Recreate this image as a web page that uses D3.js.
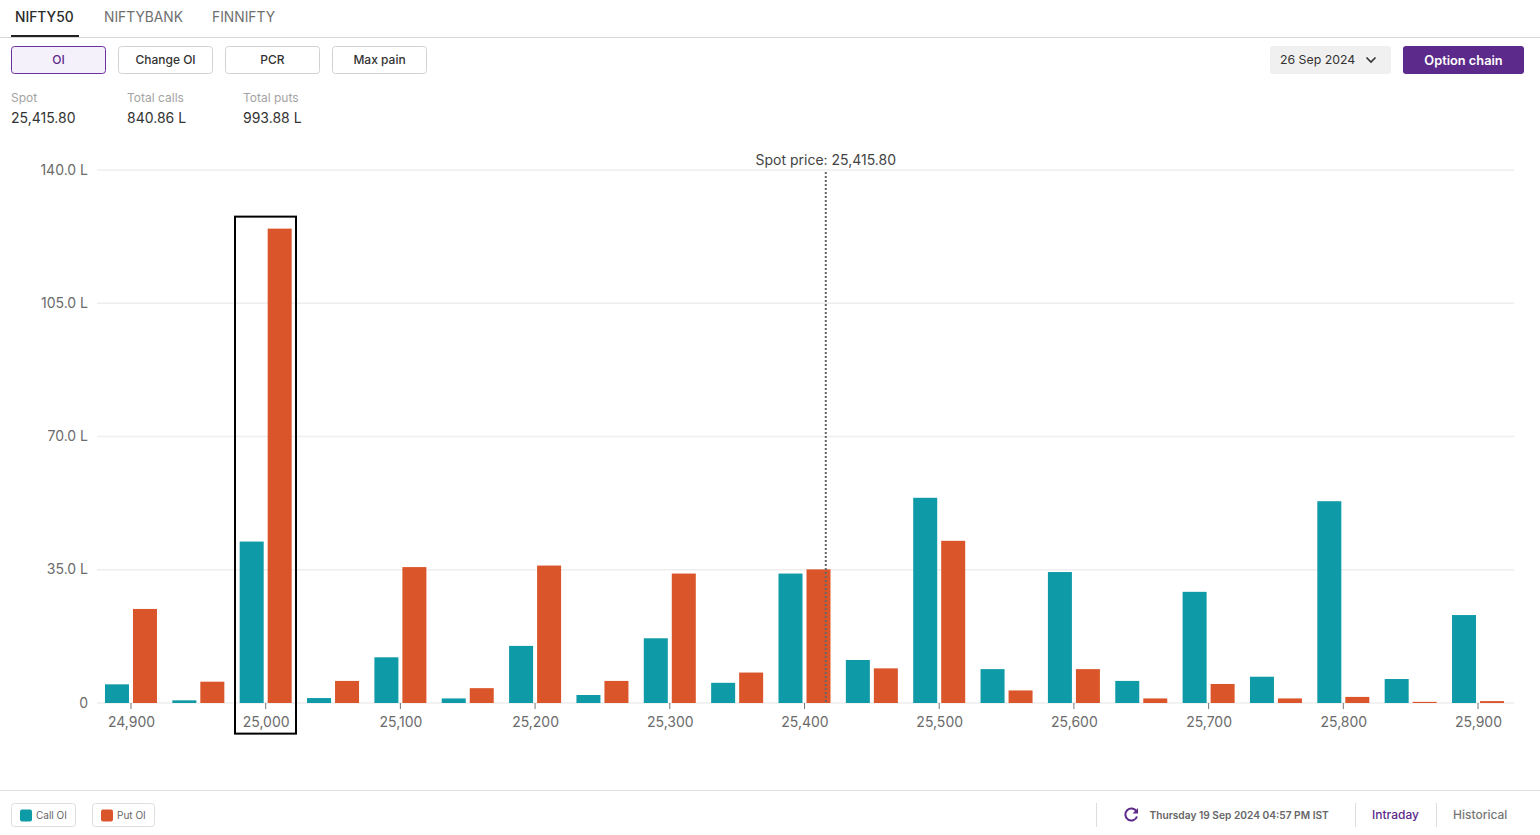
<!DOCTYPE html>
<html>
<head>
<meta charset="utf-8">
<title>Option chain OI</title>
<script src="https://cdn.jsdelivr.net/npm/d3@7"></script>
<style>
  html, body { margin: 0; padding: 0; background: #fff; overflow: hidden; }
  svg { display: block; font-family: Inter, "Noto Sans", sans-serif; }
</style>
</head>
<body>
<div id="chart"></div>
<script>
// width and height of the page
var w = 1540;
var h = 835;

// strikes and open interest, in lakh
var strikes = [24900, 24950, 25000, 25050, 25100, 25150, 25200, 25250, 25300, 25350, 25400,
  25450, 25500, 25550, 25600, 25650, 25700, 25750, 25800, 25850, 25900];
var callOI = [4.9, 0.7, 42.4, 1.3, 12, 1.2, 15, 2.1, 17, 5.3, 34,
  11.3, 53.9, 8.9, 34.4, 5.8, 29.2, 6.9, 53, 6.3, 23.1];
var putOI = [24.7, 5.6, 124.6, 5.8, 35.7, 3.9, 36.1, 5.8, 34, 8, 35.1,
  9.1, 42.6, 3.3, 8.9, 1.2, 5, 1.2, 1.6, 0.3, 0.5];
var yTicks = [0, 35, 70, 105, 140];
var xTicks = [24900, 25000, 25100, 25200, 25300, 25400, 25500, 25600, 25700, 25800, 25900];
var spot = 25415.80;
var highlighted = 25000;

// header and footer text
var tabs = ["NIFTY50", "NIFTYBANK", "FINNIFTY"];
var buttons = ["OI", "Change OI", "PCR", "Max pain"];
var stats = [["Spot", "25,415.80"], ["Total calls", "840.86 L"], ["Total puts", "993.88 L"]];
var legendNames = ["Call OI", "Put OI"];
var colors = ["#0e9aa7", "#db552a"];

var svg = d3.select("#chart").append("svg")
  .attr("width", w)
  .attr("height", h);

// tabs
var tabX = [15, 104, 212];
svg.selectAll(".tab")
  .data(tabs)
  .enter()
  .append("text")
  .attr("class", "tab")
  .attr("x", function(d, i) { return tabX[i]; })
  .attr("y", 22)
  .attr("font-size", "13.8px")
  .attr("font-weight", function(d, i) { return i === 0 ? 500 : 400; })
  .attr("fill", function(d, i) { return i === 0 ? "#2b2b2b" : "#6f6f6f"; })
  .text(function(d) { return d; });

svg.append("line").attr("x1", 0).attr("x2", w).attr("y1", 37.5).attr("y2", 37.5).attr("stroke", "#d6d6d6");
svg.append("rect").attr("x", 11).attr("y", 35).attr("width", 68).attr("height", 2).attr("fill", "#222");

// buttons
var btn = svg.selectAll(".btn")
  .data(buttons)
  .enter()
  .append("g")
  .attr("class", "btn")
  .attr("transform", function(d, i) { return "translate(" + (11.5 + i * 107) + ",46.5)"; });

btn.append("rect")
  .attr("width", 94)
  .attr("height", 27)
  .attr("rx", 3)
  .attr("fill", function(d, i) { return i === 0 ? "#f5f1fa" : "#fff"; })
  .attr("stroke", function(d, i) { return i === 0 ? "#6a2fa0" : "#d2d2d2"; });

btn.append("text")
  .attr("x", 47)
  .attr("y", 17.5)
  .attr("text-anchor", "middle")
  .attr("font-size", "12px")
  .attr("font-weight", 500)
  .attr("fill", function(d, i) { return i === 0 ? "#5e2a8c" : "#333"; })
  .text(function(d) { return d; });

// date picker and option chain button
svg.append("rect").attr("x", 1270).attr("y", 46).attr("width", 121).attr("height", 28).attr("rx", 3).attr("fill", "#f0f0f0");
svg.append("text").attr("x", 1280).attr("y", 64).attr("font-size", "12.3px").attr("fill", "#333").text("26 Sep 2024");
svg.append("path").attr("d", "M1366.5 57.5l4.5 4.5l4.5 -4.5").attr("fill", "none").attr("stroke", "#333").attr("stroke-width", 1.6);
svg.append("rect").attr("x", 1403).attr("y", 46).attr("width", 121).attr("height", 28).attr("rx", 3).attr("fill", "#5c2a8a");
svg.append("text").attr("x", 1463.5).attr("y", 65).attr("text-anchor", "middle").attr("font-size", "12.8px")
  .attr("font-weight", 600).attr("fill", "#fff").text("Option chain");

// spot and totals
var stat = svg.selectAll(".stat")
  .data(stats)
  .enter()
  .append("g")
  .attr("class", "stat")
  .attr("transform", function(d, i) { return "translate(" + (11 + i * 116) + ",0)"; });

stat.append("text").attr("y", 102).attr("font-size", "12px").attr("fill", "#a3a3a3")
  .text(function(d) { return d[0]; });
stat.append("text").attr("y", 123).attr("font-size", "14px").attr("fill", "#333")
  .text(function(d) { return d[1]; });

// scales
var xScale = d3.scaleBand()
  .domain(strikes)
  .range([97.3, 1511.7]);

var xSpot = d3.scaleLinear()
  .domain([strikes[0], strikes[strikes.length - 1]])
  .range([xScale(strikes[0]) + xScale.bandwidth() / 2,
    xScale(strikes[strikes.length - 1]) + xScale.bandwidth() / 2]);

var yScale = d3.scaleLinear()
  .domain([0, 140])
  .range([703, 170]);

// grid lines and y labels
svg.selectAll(".grid")
  .data(yTicks)
  .enter()
  .append("line")
  .attr("class", "grid")
  .attr("x1", 97)
  .attr("x2", 1514)
  .attr("y1", function(d) { return yScale(d); })
  .attr("y2", function(d) { return yScale(d); })
  .attr("stroke", "#eeeeee")
  .attr("stroke-width", 1.3);

svg.selectAll(".yLabel")
  .data(yTicks)
  .enter()
  .append("text")
  .attr("class", "yLabel")
  .attr("x", 88)
  .attr("y", function(d) { return yScale(d) + 4.5; })
  .attr("text-anchor", "end")
  .attr("font-size", "14px")
  .attr("fill", "#6b6b6b")
  .text(function(d) { return d === 0 ? "0" : d.toFixed(1) + " L"; });

// bars
function drawBars(values, offset, color) {
  svg.selectAll(".bar" + offset)
    .data(values)
    .enter()
    .append("rect")
    .attr("class", "bar" + offset)
    .attr("x", function(d, i) { return xScale(strikes[i]) + xScale.bandwidth() / 2 + offset; })
    .attr("y", function(d) { return yScale(d); })
    .attr("width", 24)
    .attr("height", function(d) { return yScale(0) - yScale(d); })
    .attr("fill", color);
}
drawBars(callOI, -26, colors[0]);
drawBars(putOI, 2, colors[1]);

// x ticks and labels
svg.selectAll(".xTick")
  .data(xTicks)
  .enter()
  .append("line")
  .attr("class", "xTick")
  .attr("x1", function(d) { return xSpot(d); })
  .attr("x2", function(d) { return xSpot(d); })
  .attr("y1", 703)
  .attr("y2", 709)
  .attr("stroke", "#777");

svg.selectAll(".xLabel")
  .data(xTicks)
  .enter()
  .append("text")
  .attr("class", "xLabel")
  .attr("x", function(d) { return xSpot(d) + 0.5; })
  .attr("y", 727)
  .attr("text-anchor", "middle")
  .attr("font-size", "14px")
  .attr("fill", "#6b6b6b")
  .text(function(d) { return d3.format(",")(d); });

// spot price marker
svg.append("line")
  .attr("x1", xSpot(spot))
  .attr("x2", xSpot(spot))
  .attr("y1", 172)
  .attr("y2", 703)
  .attr("stroke", "#666")
  .attr("stroke-width", 2)
  .attr("stroke-dasharray", "2 2");

svg.append("text")
  .attr("x", xSpot(spot))
  .attr("y", 165)
  .attr("text-anchor", "middle")
  .attr("font-size", "14px")
  .attr("fill", "#444")
  .text("Spot price: " + d3.format(",.2f")(spot));

// box round the highlighted strike
svg.append("rect")
  .attr("x", xScale(highlighted) + 3)
  .attr("y", yScale(124.6) - 12)
  .attr("width", xScale.bandwidth() - 6.35)
  .attr("height", 517)
  .attr("fill", "none")
  .attr("stroke", "#000")
  .attr("stroke-width", 2);

// footer
svg.append("line").attr("x1", 0).attr("x2", w).attr("y1", 790.5).attr("y2", 790.5).attr("stroke", "#e2e2e2");

var legend = svg.selectAll(".legend")
  .data(legendNames)
  .enter()
  .append("g")
  .attr("class", "legend")
  .attr("transform", function(d, i) { return "translate(" + (11.5 + i * 81) + ",803.5)"; });

legend.append("rect")
  .attr("width", function(d, i) { return i === 0 ? 64 : 62; })
  .attr("height", 23)
  .attr("rx", 3)
  .attr("fill", "#fff")
  .attr("stroke", "#dedede");

legend.append("rect")
  .attr("x", 8.5)
  .attr("y", 6)
  .attr("width", 12)
  .attr("height", 12)
  .attr("rx", 2)
  .attr("fill", function(d, i) { return colors[i]; });

legend.append("text")
  .attr("x", 24.5)
  .attr("y", 15.5)
  .attr("font-size", "10px")
  .attr("fill", "#666")
  .text(function(d) { return d; });

var dividers = [1096.5, 1355.5, 1436.5];
svg.selectAll(".divider")
  .data(dividers)
  .enter()
  .append("line")
  .attr("class", "divider")
  .attr("x1", function(d) { return d; })
  .attr("x2", function(d) { return d; })
  .attr("y1", 803)
  .attr("y2", 827)
  .attr("stroke", "#dedede");

// refresh icon
svg.append("path")
  .attr("d", "M1136.5 811.5a6 6 0 1 0 0.5 5")
  .attr("fill", "none")
  .attr("stroke", "#5c2a8a")
  .attr("stroke-width", 2);
svg.append("path")
  .attr("d", "M1138 808v5.5h-5.5z")
  .attr("fill", "#5c2a8a");

svg.append("text").attr("x", 1149.5).attr("y", 819).attr("font-size", "10.2px").attr("font-weight", 600)
  .attr("fill", "#666").text("Thursday 19 Sep 2024 04:57 PM IST");
svg.append("text").attr("x", 1372).attr("y", 819).attr("font-size", "12px").attr("font-weight", 500)
  .attr("fill", "#5c2a8a").text("Intraday");
svg.append("text").attr("x", 1453).attr("y", 819).attr("font-size", "12px").attr("font-weight", 500)
  .attr("fill", "#777").text("Historical");
</script>
</body>
</html>
